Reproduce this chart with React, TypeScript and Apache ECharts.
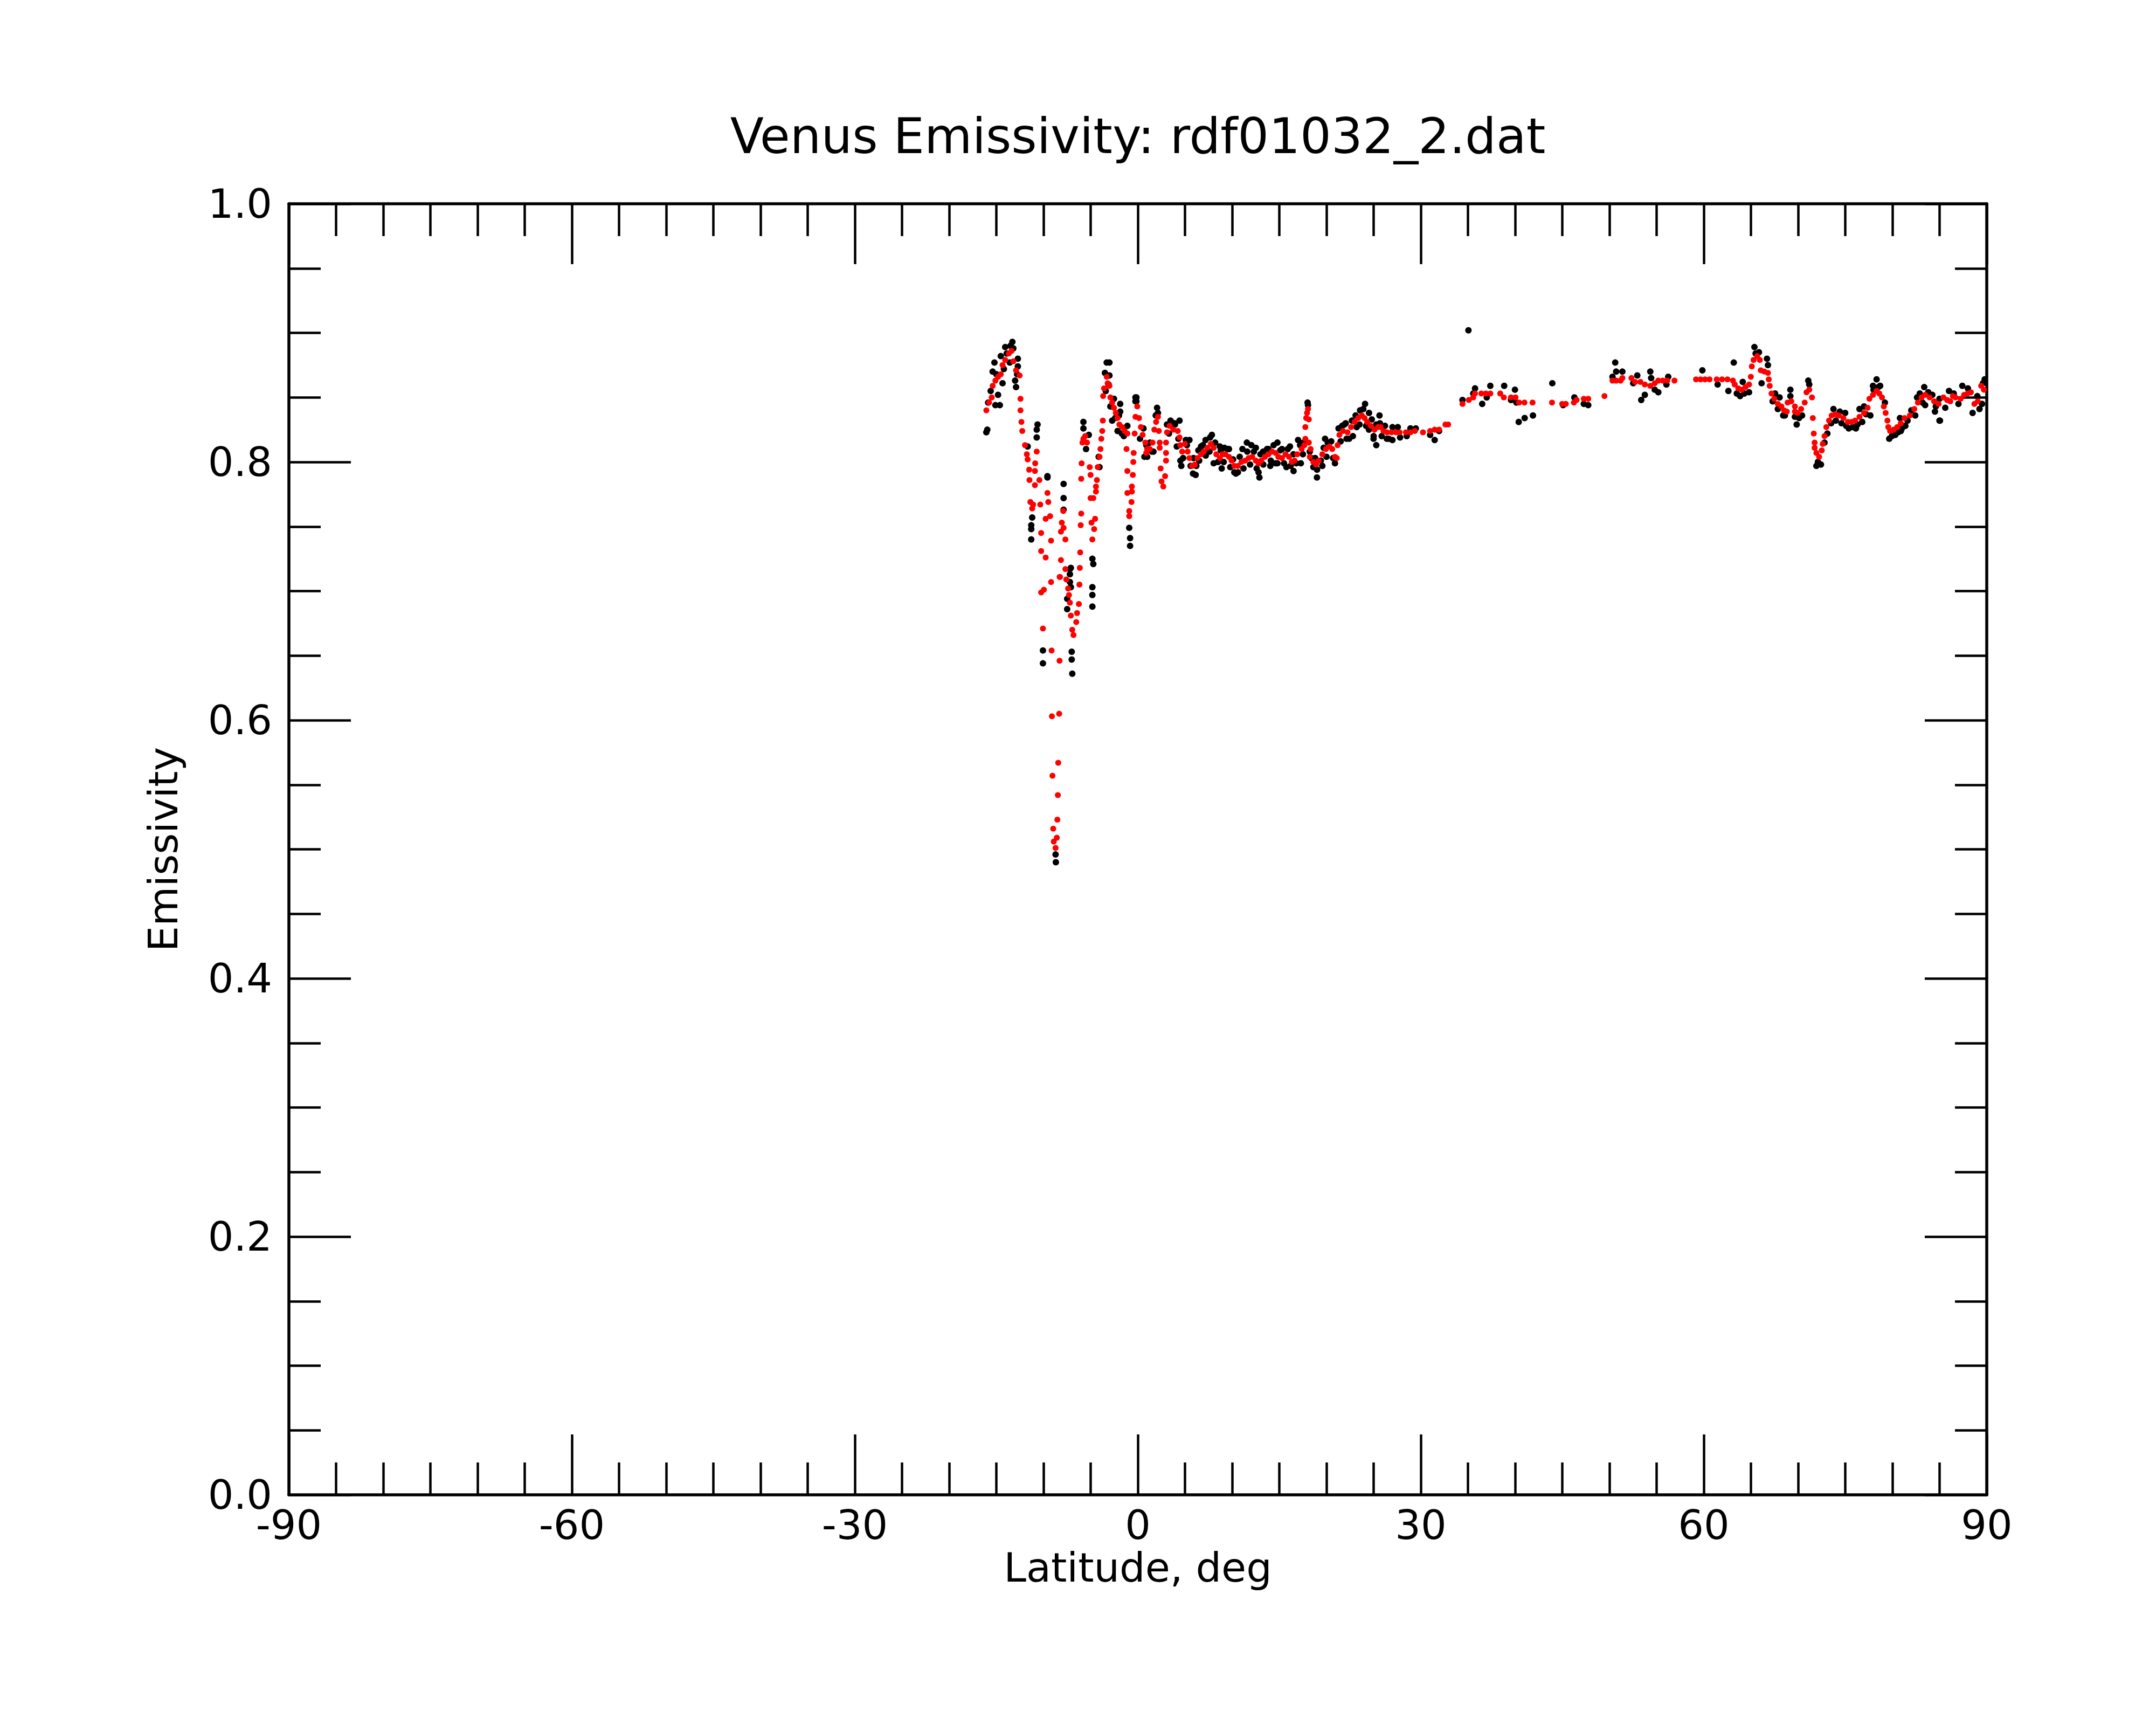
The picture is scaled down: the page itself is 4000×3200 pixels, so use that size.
import React, { useEffect, useRef } from "react";
import * as echarts from "echarts";

const TITLE = "Venus Emissivity: rdf01032_2.dat";
const X_NAME = "Latitude, deg";
const Y_NAME = "Emissivity";
const X_MIN = -90;
const X_MAX = 90;
const Y_MIN = 0;
const Y_MAX = 1;

// Raw emissivity samples (black)
const rawSouth: number[][] = [
  [-15.96, 0.825], [-16.06, 0.823], [-15.87, 0.846], [-15.1, 0.844], [-14.63, 0.844], [-14.82, 0.852],
  [-15.39, 0.87], [-15.2, 0.877], [-14.34, 0.861], [-14.53, 0.882], [-14.06, 0.889], [-13.3, 0.893],
  [-13.2, 0.888], [-12.72, 0.88], [-12.72, 0.874], [-13.01, 0.863], [-12.91, 0.858], [-13.58, 0.877],
  [-15.6, 0.855], [-15.0, 0.868], [-14.2, 0.872], [-13.9, 0.884], [-13.5, 0.89], [-12.8, 0.868],
  [-10.63, 0.829], [-10.72, 0.825], [-10.72, 0.819], [-9.58, 0.789], [-9.58, 0.788], [-11.2, 0.757],
  [-11.3, 0.751], [-11.3, 0.748], [-11.3, 0.74], [-11.68, 0.812],
  [-7.87, 0.783], [-7.87, 0.772], [-7.87, 0.763], [-7.2, 0.717], [-7.2, 0.713], [-7.2, 0.707],
  [-7.1, 0.703], [-10.06, 0.654], [-10.06, 0.644], [-7.01, 0.653], [-7.01, 0.647], [-6.95, 0.636],
  [-7.1, 0.718], [-7.49, 0.694], [-7.49, 0.686], [-8.72, 0.496], [-8.69, 0.49],
  [-5.77, 0.831], [-5.77, 0.826], [-5.2, 0.821], [-5.49, 0.81], [-4.82, 0.725], [-4.72, 0.721],
  [-4.82, 0.703], [-4.82, 0.697], [-4.82, 0.688], [-4.15, 0.804], [-4.06, 0.796],
  [-3.3, 0.877], [-3.01, 0.877], [-3.49, 0.869], [-3.01, 0.867], [-3.1, 0.86], [-2.53, 0.849],
  [-2.91, 0.843], [-1.87, 0.845], [-1.87, 0.839], [-2.72, 0.832], [-2.15, 0.824], [-1.49, 0.82],
  [-1.11, 0.828], [-3.4, 0.855], [-2.4, 0.834], [-1.7, 0.822], [-2.0, 0.836],
  [-0.15, 0.85], [-0.15, 0.847], [0.7, 0.804], [-0.91, 0.749], [-0.82, 0.741], [-0.82, 0.735],
];

const rawMid: number[][] = [
  [-0.25, 0.85], [-0.25, 0.847], [0.23, 0.818], [0.99, 0.804], [1.28, 0.815], [1.66, 0.808],
  [2.04, 0.842], [2.13, 0.838], [3.09, 0.829], [3.47, 0.832], [3.94, 0.829], [4.42, 0.832],
  [4.13, 0.812], [4.51, 0.801], [4.61, 0.797], [5.09, 0.817], [5.47, 0.817], [5.85, 0.791],
  [6.13, 0.79], [6.42, 0.809], [6.7, 0.812], [7.18, 0.817], [7.85, 0.821], [7.66, 0.819],
  [8.04, 0.799], [8.7, 0.812], [8.89, 0.795], [9.18, 0.811], [9.66, 0.81], [10.23, 0.792],
  [10.61, 0.792], [11.09, 0.81], [11.56, 0.815], [12.04, 0.813], [12.51, 0.811], [12.8, 0.792],
  [12.89, 0.788], [13.28, 0.808], [13.85, 0.81], [14.04, 0.797], [14.8, 0.815], [14.61, 0.799],
  [15.28, 0.81], [15.75, 0.796], [16.13, 0.812], [16.51, 0.793], [16.99, 0.817], [17.28, 0.799],
  [17.56, 0.815], [18.0, 0.846], [18.04, 0.844], [18.23, 0.808], [18.61, 0.796], [18.99, 0.788],
  [19.56, 0.797], [19.85, 0.818], [20.13, 0.815], [20.9, 0.799], [21.28, 0.826], [21.66, 0.828],
  [22.04, 0.83], [22.13, 0.818], [22.8, 0.82], [23.09, 0.836], [23.56, 0.84], [24.09, 0.845],
  [24.51, 0.838], [24.99, 0.818], [25.28, 0.813], [25.28, 0.829], [25.62, 0.836], [25.66, 0.83],
  [25.85, 0.82], [26.61, 0.818], [26.99, 0.817], [27.56, 0.827],
  [0.6, 0.826], [0.9, 0.813], [1.5, 0.808], [1.9, 0.836], [3.3, 0.822], [3.9, 0.83], [4.3, 0.818],
  [4.8, 0.803], [5.2, 0.813], [5.6, 0.797], [5.9, 0.803], [6.2, 0.797], [6.5, 0.801], [6.9, 0.813],
  [7.2, 0.805], [7.6, 0.808], [8.2, 0.815], [8.5, 0.8], [8.8, 0.809], [9.1, 0.8], [9.5, 0.81],
  [9.8, 0.796], [10.1, 0.802], [10.4, 0.791], [10.8, 0.804], [11.2, 0.795], [11.6, 0.808],
  [11.9, 0.798], [12.3, 0.808], [12.6, 0.795], [13.0, 0.806], [13.3, 0.798], [13.7, 0.81],
  [14.1, 0.801], [14.4, 0.813], [14.8, 0.799], [15.1, 0.809], [15.5, 0.799], [15.9, 0.81],
  [16.2, 0.797], [16.5, 0.806], [16.8, 0.799], [17.2, 0.813], [17.5, 0.806], [18.4, 0.803],
  [18.8, 0.803], [19.0, 0.794], [19.4, 0.801], [19.7, 0.811], [20.0, 0.804], [20.5, 0.816],
  [20.7, 0.803], [21.5, 0.816], [21.9, 0.829], [22.4, 0.818], [22.7, 0.832], [23.2, 0.827],
  [23.5, 0.829], [23.9, 0.841], [24.2, 0.828], [24.5, 0.825], [24.8, 0.833], [25.0, 0.82],
  [26.2, 0.828], [26.4, 0.818], [27.0, 0.827], [27.8, 0.819],
];

const rawNorth: number[][] = [
  [28.51, 0.82], [28.9, 0.826], [29.47, 0.826], [30.99, 0.821], [31.47, 0.817], [31.94, 0.824],
  [34.42, 0.848], [35.05, 0.902], [35.56, 0.853], [35.75, 0.857], [36.51, 0.845], [36.99, 0.85],
  [37.37, 0.859], [38.84, 0.859], [39.56, 0.848], [39.98, 0.856], [40.13, 0.846], [40.38, 0.831],
  [41.01, 0.834], [41.89, 0.836], [43.94, 0.861], [45.09, 0.844], [46.28, 0.85], [47.28, 0.845],
  [47.75, 0.844], [50.61, 0.877], [50.71, 0.87], [51.37, 0.87], [50.32, 0.866], [52.52, 0.861],
  [52.95, 0.867], [53.37, 0.848], [53.75, 0.852], [54.33, 0.87], [54.42, 0.865], [54.8, 0.856],
  [55.18, 0.854], [56.04, 0.86], [56.23, 0.866],
  [59.85, 0.871], [61.47, 0.86], [63.18, 0.877], [62.61, 0.855], [63.85, 0.851], [64.13, 0.862],
  [64.8, 0.854], [65.37, 0.889], [65.85, 0.885], [66.7, 0.88], [66.8, 0.875], [66.13, 0.861],
  [67.56, 0.853], [68.04, 0.85], [67.85, 0.841], [68.42, 0.836], [69.18, 0.856], [69.18, 0.851],
  [69.85, 0.829], [69.66, 0.835], [70.42, 0.836], [71.08, 0.863], [71.18, 0.86], [71.94, 0.797],
  [72.42, 0.798], [73.75, 0.841], [74.42, 0.839], [74.99, 0.838], [75.37, 0.826], [76.13, 0.826],
  [76.51, 0.841], [76.99, 0.843], [77.66, 0.836], [78.32, 0.864], [77.94, 0.859], [78.7, 0.859],
  [79.66, 0.818], [79.94, 0.82], [80.89, 0.824], [80.8, 0.834], [81.37, 0.828], [82.42, 0.836],
  [82.61, 0.85], [83.37, 0.858], [83.47, 0.844], [84.23, 0.852], [84.51, 0.839], [84.99, 0.849],
  [84.99, 0.832],
  [63.5, 0.853], [64.3, 0.853], [65.5, 0.884], [67.3, 0.847], [68.6, 0.836], [70.1, 0.834],
  [72.1, 0.8], [72.8, 0.815], [73.1, 0.822], [73.5, 0.83], [74.0, 0.832], [74.6, 0.83],
  [75.1, 0.828], [75.8, 0.827], [76.3, 0.829], [76.8, 0.831], [77.2, 0.837], [78.0, 0.856],
  [78.5, 0.858], [79.2, 0.846], [80.3, 0.821], [80.6, 0.823], [81.0, 0.826], [81.6, 0.832],
  [82.0, 0.84], [82.9, 0.853], [83.2, 0.846], [83.8, 0.854], [84.6, 0.843],
  [85.04, 0.832], [85.6, 0.842], [86.5, 0.853], [87.41, 0.859], [88.5, 0.838], [89.23, 0.841],
  [89.78, 0.864], [89.6, 0.861], [86.0, 0.855], [87.0, 0.845], [88.0, 0.857], [89.0, 0.851],
  [89.5, 0.845],
];

// Smoothed emissivity (red)
const smoothSouth: number[][] = [
  [-16.06, 0.84], [-15.77, 0.846], [-15.49, 0.85], [-15.39, 0.859], [-15.1, 0.863], [-14.82, 0.866],
  [-14.53, 0.868], [-14.34, 0.875], [-14.06, 0.879], [-13.68, 0.884], [-13.39, 0.886], [-13.2, 0.878],
  [-12.91, 0.871], [-12.53, 0.867],
  [-12.44, 0.849], [-12.44, 0.84], [-12.34, 0.831], [-12.25, 0.824], [-11.96, 0.813], [-11.77, 0.806],
  [-11.68, 0.802], [-11.52, 0.794], [-11.49, 0.786], [-10.91, 0.793], [-10.88, 0.799], [-10.72, 0.808],
  [-10.91, 0.782], [-10.44, 0.786], [-11.39, 0.769], [-11.1, 0.767], [-11.2, 0.764], [-10.34, 0.767],
  [-9.58, 0.776], [-9.49, 0.769], [-9.77, 0.756], [-9.3, 0.758], [-10.25, 0.745], [-9.2, 0.739],
  [-10.25, 0.731], [-9.77, 0.726], [-9.2, 0.707], [-9.96, 0.701], [-10.25, 0.699], [-8.29, 0.711],
  [-10.06, 0.671], [-9.14, 0.654], [-8.3, 0.646], [-9.11, 0.603], [-8.34, 0.605], [-8.44, 0.567],
  [-9.05, 0.557], [-8.48, 0.542], [-8.53, 0.523], [-8.97, 0.516], [-8.59, 0.509], [-8.91, 0.506],
  [-8.72, 0.501],
  [-7.9, 0.762], [-8.06, 0.753], [-7.87, 0.749], [-8.15, 0.746], [-7.68, 0.74], [-8.15, 0.724],
  [-7.68, 0.717], [-8.25, 0.711], [-7.58, 0.709], [-7.39, 0.702], [-7.3, 0.697], [-7.2, 0.691],
  [-7.1, 0.681], [-6.95, 0.67], [-6.82, 0.666], [-6.53, 0.676], [-6.44, 0.683], [-6.25, 0.69],
  [-6.19, 0.705], [-6.15, 0.718], [-6.11, 0.73],
  [-5.96, 0.799], [-6.0, 0.787], [-6.0, 0.76], [-6.06, 0.751],
  [-5.77, 0.818], [-5.58, 0.82], [-5.39, 0.815], [-5.87, 0.815], [-5.1, 0.796], [-5.01, 0.79],
  [-4.25, 0.796], [-4.34, 0.786], [-4.44, 0.781], [-4.44, 0.777], [-4.72, 0.772], [-5.01, 0.772],
  [-4.53, 0.756], [-4.91, 0.753], [-4.63, 0.748], [-4.82, 0.74],
  [-4.06, 0.804], [-3.96, 0.81], [-3.87, 0.818], [-3.77, 0.824], [-3.71, 0.832],
  [-3.68, 0.851], [-3.58, 0.857], [-3.3, 0.866], [-3.2, 0.861], [-3.01, 0.859], [-2.91, 0.85],
  [-2.72, 0.846], [-2.53, 0.842], [-2.34, 0.838], [-2.15, 0.834], [-1.96, 0.829], [-1.68, 0.827],
  [-1.39, 0.824], [-1.11, 0.822],
  [-1.2, 0.81], [-0.44, 0.807], [-0.48, 0.8], [-1.11, 0.793], [-0.53, 0.79], [-0.63, 0.781],
  [-0.63, 0.777], [-1.11, 0.776], [-0.67, 0.769], [-0.91, 0.762], [-0.91, 0.758], [-0.34, 0.822],
  [-0.06, 0.843],
];

const smoothMid: number[][] = [
  [-0.25, 0.835], [0.13, 0.834], [0.32, 0.827], [0.51, 0.821], [0.8, 0.815], [0.99, 0.81],
  [0.89, 0.807], [1.28, 0.81], [1.56, 0.815], [1.75, 0.825], [1.94, 0.831], [2.13, 0.835],
  [2.23, 0.824], [2.32, 0.815], [2.32, 0.811], [2.42, 0.795], [2.89, 0.789], [2.51, 0.785],
  [2.7, 0.781], [2.99, 0.807], [2.99, 0.815], [2.99, 0.801], [3.09, 0.823], [3.37, 0.828],
  [3.75, 0.825], [4.23, 0.824], [4.42, 0.819], [4.51, 0.813], [4.7, 0.808], [4.99, 0.814],
  [5.28, 0.808], [5.47, 0.803], [5.75, 0.797], [6.04, 0.798], [6.32, 0.803], [6.7, 0.806],
  [6.99, 0.808], [7.37, 0.811], [7.75, 0.814], [8.04, 0.811], [8.32, 0.806], [8.7, 0.803],
  [8.99, 0.806], [9.28, 0.806], [9.66, 0.804], [9.94, 0.801], [10.23, 0.797], [10.61, 0.797],
  [10.99, 0.8], [11.37, 0.801], [11.75, 0.803], [12.13, 0.804], [12.51, 0.801], [12.8, 0.799],
  [13.09, 0.801], [13.47, 0.804], [13.85, 0.806], [14.23, 0.808], [14.61, 0.807], [14.9, 0.804],
  [15.28, 0.803], [15.66, 0.806], [16.04, 0.804], [16.32, 0.8], [16.61, 0.801], [16.9, 0.806],
  [17.37, 0.81], [17.66, 0.813], [18.04, 0.841], [17.94, 0.838], [17.85, 0.834], [18.13, 0.833],
  [17.76, 0.827], [17.76, 0.818], [18.13, 0.815], [18.32, 0.81], [18.23, 0.804], [18.61, 0.8],
  [18.9, 0.798], [19.18, 0.801], [19.56, 0.806], [19.94, 0.81], [20.32, 0.812], [20.61, 0.81],
  [20.9, 0.804], [21.09, 0.803], [21.18, 0.813], [21.37, 0.821], [21.75, 0.824], [22.23, 0.823],
  [22.61, 0.827], [22.99, 0.831], [23.37, 0.834], [23.75, 0.836], [24.04, 0.834], [24.32, 0.831],
  [24.7, 0.828], [25.09, 0.825], [25.47, 0.827], [25.75, 0.827], [26.04, 0.824], [26.42, 0.823],
  [26.89, 0.823], [27.37, 0.823], [27.75, 0.823],
];

const smoothNorth: number[][] = [
  [28.42, 0.823], [28.9, 0.823], [29.37, 0.824], [30.23, 0.823], [30.99, 0.824], [31.47, 0.825],
  [31.94, 0.825], [32.61, 0.829], [32.9, 0.829],
  [34.42, 0.845], [35.09, 0.848], [35.56, 0.85], [35.75, 0.853], [36.42, 0.853], [36.9, 0.853],
  [37.37, 0.853], [38.42, 0.853], [38.8, 0.85], [39.56, 0.85], [40.04, 0.85], [40.42, 0.846],
  [40.99, 0.846], [41.85, 0.846],
  [43.91, 0.846], [44.99, 0.845], [45.37, 0.845], [46.23, 0.846], [46.51, 0.848], [47.28, 0.849],
  [47.75, 0.849], [49.47, 0.851],
  [50.32, 0.863], [50.71, 0.863], [51.18, 0.863], [51.37, 0.865], [52.33, 0.865], [52.71, 0.862],
  [53.28, 0.862], [53.75, 0.86], [54.33, 0.859], [54.8, 0.861], [55.18, 0.863], [55.66, 0.863],
  [56.13, 0.863], [56.89, 0.863],
  [59.18, 0.864], [59.66, 0.864], [60.13, 0.864], [60.61, 0.864], [61.37, 0.864], [61.94, 0.864],
  [62.51, 0.864], [63.09, 0.863], [63.28, 0.86], [63.66, 0.857], [64.04, 0.856], [64.42, 0.858],
  [64.8, 0.86], [64.99, 0.866], [65.09, 0.874], [65.28, 0.879], [65.66, 0.882], [65.94, 0.879],
  [66.04, 0.871], [66.42, 0.87], [66.8, 0.869], [66.89, 0.864], [66.99, 0.859], [67.18, 0.853],
  [67.47, 0.849], [67.85, 0.845], [68.23, 0.843], [68.51, 0.84], [68.8, 0.839], [68.89, 0.846],
  [69.28, 0.847], [69.66, 0.843], [69.66, 0.839], [69.94, 0.838], [70.32, 0.841], [70.7, 0.846],
  [70.89, 0.854], [71.18, 0.856], [71.47, 0.85], [71.56, 0.834], [71.66, 0.822], [71.75, 0.815],
  [71.75, 0.811], [71.94, 0.807], [72.23, 0.804], [72.51, 0.809], [72.61, 0.814], [72.8, 0.82],
  [72.99, 0.827], [73.28, 0.832], [73.56, 0.836], [73.94, 0.837], [74.32, 0.836], [74.8, 0.834],
  [75.28, 0.831], [75.66, 0.831], [76.04, 0.832], [76.51, 0.835], [76.99, 0.838], [77.37, 0.842],
  [77.56, 0.849], [77.94, 0.852], [78.32, 0.855], [78.61, 0.853], [78.89, 0.85], [79.09, 0.843],
  [79.28, 0.838], [79.47, 0.832], [79.56, 0.827], [79.75, 0.824], [80.13, 0.825], [80.51, 0.827],
  [80.89, 0.83], [81.28, 0.834], [81.85, 0.836], [82.32, 0.841], [82.7, 0.846], [83.09, 0.85],
  [83.47, 0.852], [83.94, 0.85], [84.42, 0.847], [84.89, 0.845],
  [85.41, 0.85], [85.8, 0.848], [86.13, 0.847], [86.4, 0.851], [86.68, 0.85], [87.23, 0.849],
  [87.6, 0.852], [87.96, 0.853], [88.32, 0.854], [88.69, 0.845], [89.05, 0.847], [89.41, 0.859],
  [89.7, 0.856],
];

const FONT = "DejaVu Sans";

export default function App() {
  const ref = useRef<HTMLDivElement>(null);
  useEffect(() => {
    document.body.style.margin = "0";
    if (!ref.current) return;
    const chart = echarts.init(ref.current, null, { renderer: "svg" });
    const frameLine = { show: true, onZero: false, lineStyle: { color: "#000", width: 5.5 } };
    const xTick = { show: true, inside: true, length: 112, lineStyle: { color: "#000", width: 4.5 } };
    const yTick = { show: true, inside: true, length: 115, lineStyle: { color: "#000", width: 4.5 } };
    const xMinor = { show: true, splitNumber: 6, length: 60, lineStyle: { color: "#000", width: 4.5 } };
    const yMinor = { show: true, splitNumber: 4, length: 59, lineStyle: { color: "#000", width: 4.5 } };
    const xBase = { type: "value", min: X_MIN, max: X_MAX, interval: 30, splitLine: { show: false } };
    const yBase = { type: "value", min: Y_MIN, max: Y_MAX, interval: 0.2, splitLine: { show: false } };
    chart.setOption({
      animation: false,
      backgroundColor: "#fff",
      textStyle: { fontFamily: FONT },
      grid: { left: 536, right: 314, top: 378, bottom: 427, containLabel: false },
      graphic: [
        {
          type: "text",
          x: 2111,
          y: 252,
          style: {
            text: TITLE,
            fontSize: 91,
            fontFamily: FONT,
            fill: "#000",
            textAlign: "center",
            textVerticalAlign: "middle",
          },
        },
      ],
      xAxis: [
        {
          ...xBase,
          position: "bottom",
          axisLine: frameLine,
          axisTick: xTick,
          minorTick: xMinor,
          axisLabel: { show: true, margin: 18, fontSize: 75, color: "#000", fontFamily: FONT },
          name: X_NAME,
          nameLocation: "middle",
          nameGap: 97,
          nameTextStyle: { fontSize: 75, color: "#000", fontFamily: FONT },
        },
        {
          ...xBase,
          position: "top",
          axisLine: frameLine,
          axisTick: xTick,
          minorTick: xMinor,
          axisLabel: { show: false },
        },
      ],
      yAxis: [
        {
          ...yBase,
          position: "left",
          axisLine: frameLine,
          axisTick: yTick,
          minorTick: yMinor,
          axisLabel: {
            show: true,
            margin: 31,
            fontSize: 75,
            color: "#000",
            fontFamily: FONT,
            formatter: (v: number) => v.toFixed(1),
          },
          name: Y_NAME,
          nameLocation: "middle",
          nameGap: 196,
          nameTextStyle: { fontSize: 75, color: "#000", fontFamily: FONT },
        },
        {
          ...yBase,
          position: "right",
          axisLine: frameLine,
          axisTick: yTick,
          minorTick: yMinor,
          axisLabel: { show: false },
        },
      ],
      series: [
        {
          type: "scatter",
          name: "raw",
          xAxisIndex: 0,
          yAxisIndex: 0,
          symbol: "circle",
          symbolSize: 12,
          itemStyle: { color: "#000", opacity: 1 },
          data: [...rawSouth, ...rawMid, ...rawNorth],
          z: 2,
        },
        {
          type: "scatter",
          name: "smooth",
          xAxisIndex: 0,
          yAxisIndex: 0,
          symbol: "circle",
          symbolSize: 11,
          itemStyle: { color: "#ff0000", opacity: 1 },
          data: [...smoothSouth, ...smoothMid, ...smoothNorth],
          z: 3,
        },
      ],
    });
    return () => chart.dispose();
  }, []);
  return <div ref={ref} style={{ width: 4000, height: 3200 }} />;
}
